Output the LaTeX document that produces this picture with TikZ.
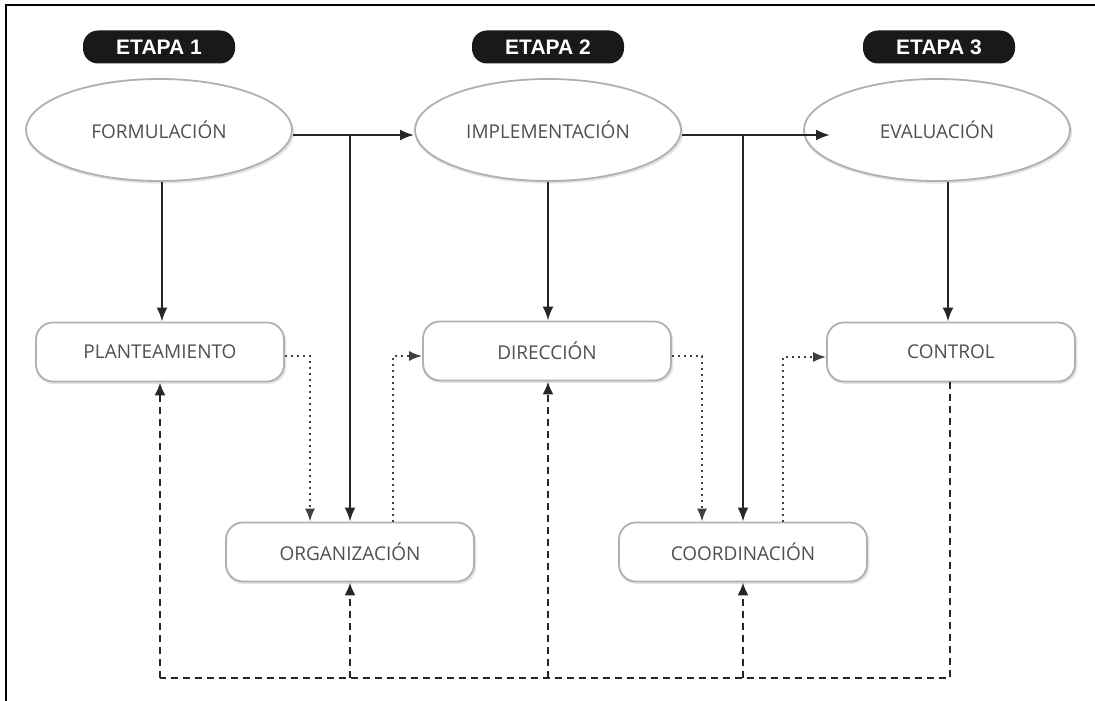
\documentclass[tikz,border=0pt]{standalone}
\usepackage{fontspec}
\setmainfont{Open Sans}
\newfontfamily\badgefont{Liberation Sans}
\usetikzlibrary{shapes.geometric,arrows.meta,shadows,calc}
\definecolor{txtgray}{HTML}{505050}
\definecolor{edgegray}{HTML}{B0B0B0}
\tikzset{
  badge/.style={fill=black!90, rounded corners=15pt, minimum width=152pt, minimum height=33pt, inner sep=0pt,
    text=white, font=\badgefont\bfseries\fontsize{21}{21}\selectfont},
  phase/.style={ellipse, draw=edgegray, line width=1.8pt, fill=white, minimum width=266pt, minimum height=102pt, inner sep=0pt,
    text=txtgray, font=\fontsize{19}{19}\selectfont,
    general shadow={fill=gray!60, opacity=0.35, shadow xshift=1pt, shadow yshift=-2pt, shadow scale=1.01}},
  stepbox/.style={draw=edgegray, line width=1.8pt, fill=white, rounded corners=17pt, minimum width=248pt, minimum height=59pt, inner sep=0pt,
    text=txtgray, font=\fontsize{19}{19}\selectfont,
    general shadow={fill=gray!60, opacity=0.35, shadow xshift=1pt, shadow yshift=-2pt, shadow scale=1.01}},
  solidarr/.style={line width=2.4pt, black!85, -{Latex[length=14pt,width=11pt]}},
  dotarr/.style={line width=2pt, black!75, dash pattern=on 2pt off 4pt, -{Latex[length=13pt,width=10pt]}},
  dasharr/.style={line width=2.4pt, black!85, dash pattern=on 7pt off 5pt, -{Latex[length=13pt,width=11pt]}},
  dashline/.style={line width=2.4pt, black!85, dash pattern=on 7pt off 5pt},
}
\begin{document}
\begin{tikzpicture}[x=1pt,y=-1pt]
\useasboundingbox (0,0) rectangle (1095,701);
\fill[white] (0,0) rectangle (1095,701);
\draw[line width=2.5pt, black] (6,701) -- (6,5) -- (1095,5);

% badges
\node[badge] (b1) at (159,47) {ETAPA 1};
\node[badge] (b2) at (548,47) {ETAPA 2};
\node[badge] (b3) at (939,47) {ETAPA 3};

% ellipses
\node[phase] (form) at (159,130) {FORMULACIÓN};
\node[phase] (impl) at (548,130) {IMPLEMENTACIÓN};
\node[phase] (eval) at (937,130) {EVALUACIÓN};

% boxes row 1
\node[stepbox] (plan) at (160,352) {PLANTEAMIENTO};
\node[stepbox] (dir) at (547,351) {DIRECCIÓN};
\node[stepbox] (ctrl) at (951,352) {CONTROL};

% boxes row 2
\node[stepbox] (org) at (350,552) {ORGANIZACIÓN};
\node[stepbox] (coord) at (743,552) {COORDINACIÓN};

% coordinates
\coordinate (j1) at (350,135);
\coordinate (j2) at (743,135);
\coordinate (eIn) at (830,135);
\coordinate (fx) at (162,0);
\coordinate (ex) at (948,0);
\coordinate (d1) at (160,678);
\coordinate (d2) at (350,678);
\coordinate (d3) at (548,678);
\coordinate (d4) at (743,678);
\coordinate (d5) at (950,678);
\coordinate (p1) at (310,356);
\coordinate (p2) at (393,356);
\coordinate (p3) at (702,356);
\coordinate (p4) at (783,357);

% solid arrows
\draw[solidarr] (form.south -| fx) -- (plan.north -| fx);
\draw[solidarr] (form.east |- j1) -- (impl.west |- j1);
\draw[solidarr] (j1) -- (org.north -| j1);
\draw[solidarr] (impl.east |- j2) -- (eIn);
\draw[solidarr] (j2) -- (coord.north -| j2);
\draw[solidarr] (impl.south) -- (dir.north -| impl.south);
\draw[solidarr] (eval.south -| ex) -- (ctrl.north -| ex);

% dotted arrows
\draw[dotarr] (plan.east |- p1) -- (p1) -- (org.north -| p1);
\draw[dotarr] (org.north -| p2) -- (p2) -- (dir.west |- p2);
\draw[dotarr] (dir.east |- p3) -- (p3) -- (coord.north -| p3);
\draw[dotarr] (coord.north -| p4) -- (p4) -- (ctrl.west |- p4);

% dashed feedback
\draw[dashline] (ctrl.south -| d5) -- (d5) -- (d1);
\draw[dasharr] (d1) -- (plan.south -| d1);
\draw[dasharr] (d2) -- (org.south -| d2);
\draw[dasharr] (d3) -- (dir.south -| d3);
\draw[dasharr] (d4) -- (coord.south -| d4);
\end{tikzpicture}
\end{document}
